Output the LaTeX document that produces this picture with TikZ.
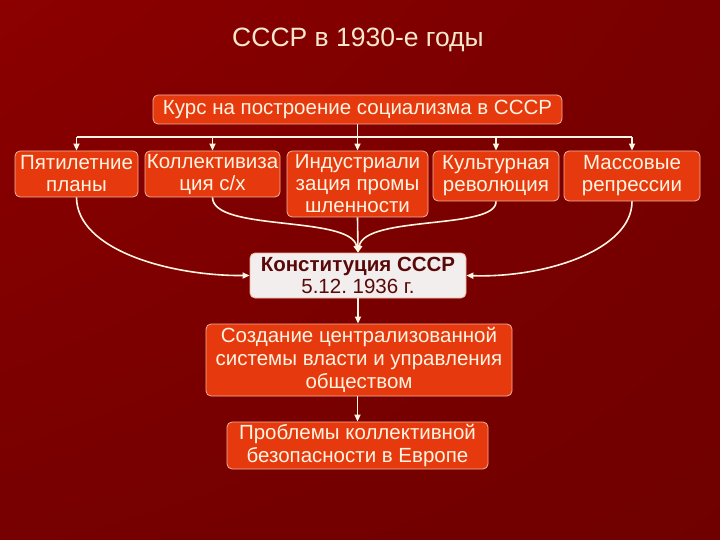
\documentclass[tikz,border=0pt]{standalone}
\usepackage{fontspec}
\setmainfont{Liberation Sans}
\usetikzlibrary{arrows.meta,shadings}
\frenchspacing
\definecolor{bgUL}{HTML}{8C0000}
\definecolor{bgUR}{HTML}{780000}
\definecolor{bgLL}{HTML}{770000}
\definecolor{bgLR}{HTML}{700000}
\definecolor{boxfill}{HTML}{E63A0E}
\definecolor{boxline}{HTML}{F4B49A}
\definecolor{cream}{HTML}{FFF4E2}
\definecolor{titlecol}{HTML}{F6E8CC}
\definecolor{konfill}{HTML}{F2EEEE}
\definecolor{kontext}{HTML}{5A0808}
\tikzset{
  rbox/.style={draw=boxline, line width=0.8pt, fill=boxfill, rounded corners=5pt,
    text=cream, inner sep=0pt, align=center,
    font=\fontsize{20.5}{22}\selectfont},
  kbox/.style={draw=boxline, line width=0.8pt, fill=konfill, rounded corners=5pt,
    text=kontext, inner sep=0pt, align=center,
    font=\fontsize{20.5}{22}\selectfont},
  conn/.style={draw=cream, line width=1.6pt, -{Triangle[length=7pt,width=6pt]}},
  plain/.style={draw=cream, line width=1.6pt}
}
\begin{document}
\begin{tikzpicture}[x=1pt,y=-1pt]
\shade[upper left=bgUL, upper right=bgUR, lower left=bgLL, lower right=bgLR] (0,0) rectangle (720,540);
\useasboundingbox (0,0) rectangle (720,540);

\node[text=titlecol, font=\fontsize{26.5}{28}\selectfont] (title) at (358,40) {СССР в 1930-е годы};

\node[rbox, minimum width=409pt, minimum height=29pt] (top) at (357.5,109.5) {Курс на построение социализма в СССР};

\node[rbox, minimum width=123pt, minimum height=46pt] (p1) at (76.5,174) {Пятилетние\\планы};
\node[rbox, minimum width=135pt, minimum height=46pt] (p2) at (212.5,174) {Коллективиза\\ция с/х};
\node[rbox, minimum width=141pt, minimum height=66pt] (p3) at (357.5,184) {Индустриали\\зация промы\\шленности};
\node[rbox, minimum width=126pt, minimum height=50pt] (p4) at (496,176) {Культурная\\революция};
\node[rbox, minimum width=136pt, minimum height=50pt] (p5) at (632,176) {Массовые\\репрессии};

\node[kbox, minimum width=216pt, minimum height=45pt] (kon) at (358,275.5) {\textbf{Конституция СССР}\\5.12. 1936 г.};

\node[rbox, minimum width=306pt, minimum height=72pt, font=\fontsize{20.5}{23}\selectfont] (sozd) at (359,360) {Создание централизованной\\системы власти и управления\\обществом};

\node[rbox, minimum width=261pt, minimum height=47pt, font=\fontsize{20.5}{23}\selectfont] (prob) at (357.5,445.5) {Проблемы коллективной\\безопасности в Европе};

% bus
\coordinate (bus) at (0,137);
\coordinate (bl) at (p1.north |- bus);
\coordinate (br) at (p5.north |- bus);
\coordinate (bt) at (top.south |- bus);
\draw[plain] (top.south) -- (bt);
\draw[plain] (bl) -- (br);
\draw[conn] (bl) -- (p1.north);
\draw[conn] (p2.north |- bus) -- (p2.north);
\draw[conn] (p3.north |- bus) -- (p3.north);
\draw[conn] (p4.north |- bus) -- (p4.north);
\draw[conn] (br) -- (p5.north);

% curves to constitution
\draw[conn] (p1.south) .. controls (77,250) and (170,276) .. (kon.west);
\draw[conn] (p2.south) .. controls (213,232) and (350,215) .. (kon.north);
\draw[conn] (p3.south) -- (kon.north);
\draw[conn] (p4.south) .. controls (497,230) and (365,215) .. (kon.north);
\draw[conn] (p5.south) .. controls (632,250) and (545,278) .. (kon.east);

\draw[conn] (kon.south) -- (kon.south |- sozd.north);
\draw[conn] (sozd.south -| prob.north) -- (prob.north);
\end{tikzpicture}
\end{document}
